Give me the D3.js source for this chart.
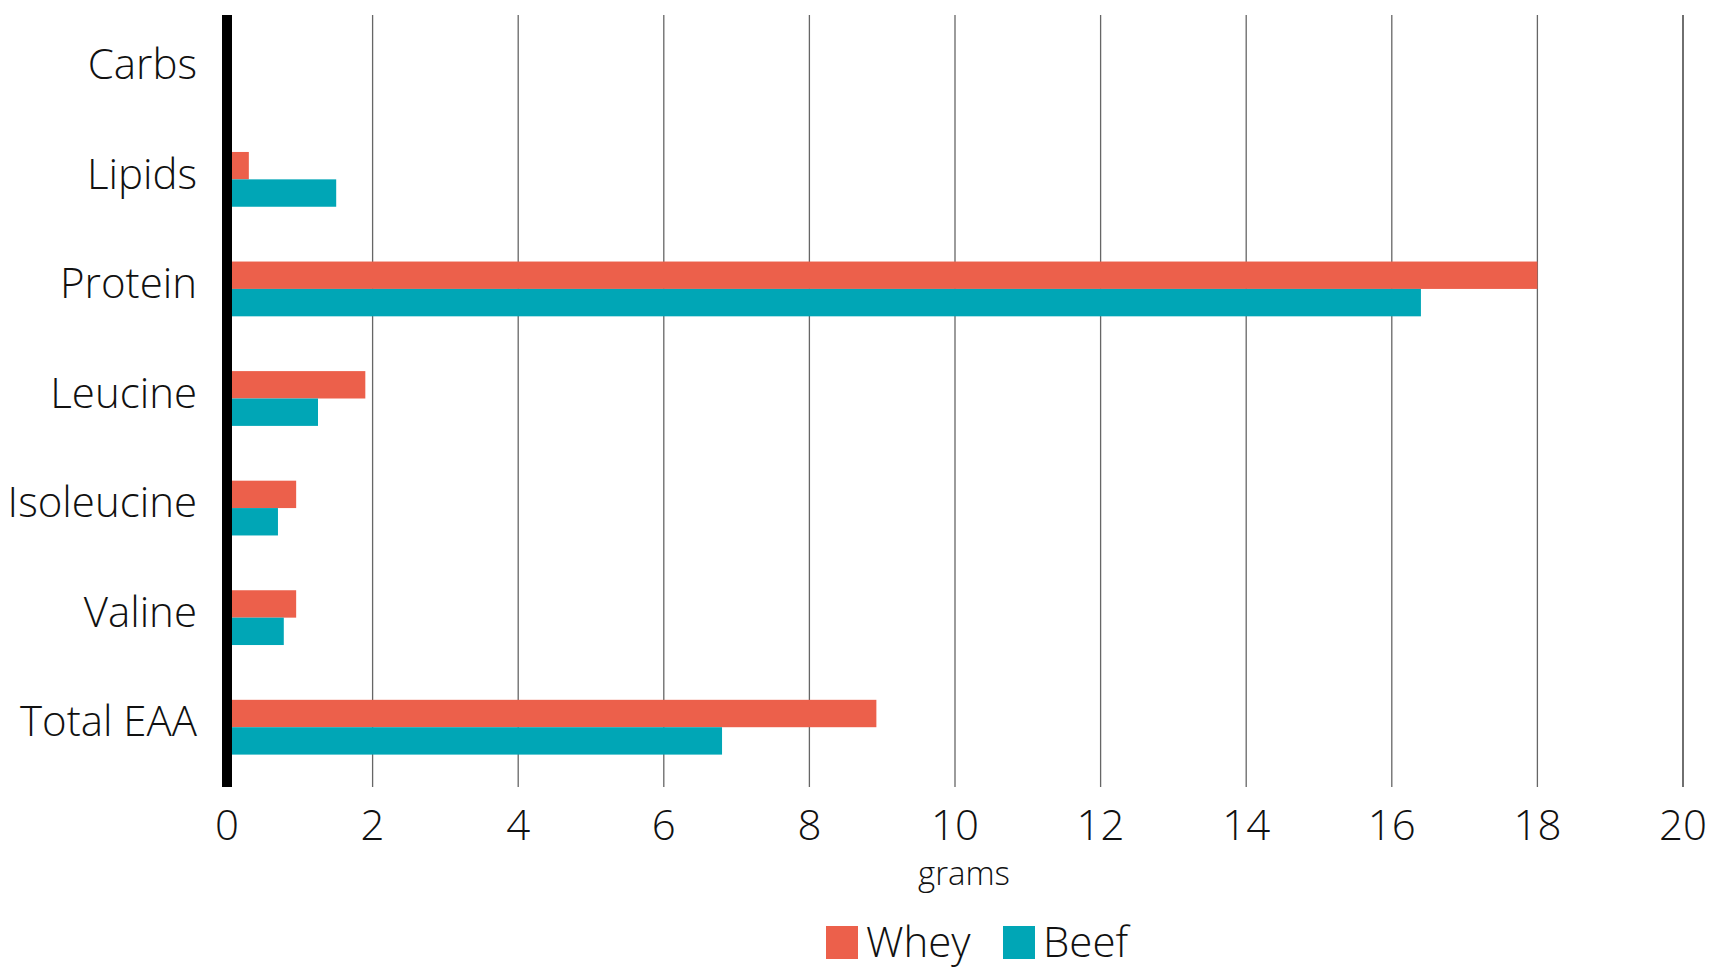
<!DOCTYPE html>
<html>
<head>
<meta charset="utf-8">
<script src="https://cdn.jsdelivr.net/npm/d3@7"></script>
<style>
  body { margin: 0; background: #fff; }
  svg text { font-family: "Open Sans", "Lato", sans-serif; font-weight: 300; fill: #111; }
</style>
</head>
<body>
<div id="chart"></div>
<script>
// data
var categories = ["Carbs", "Lipids", "Protein", "Leucine", "Isoleucine", "Valine", "Total EAA"];
var seriesNames = ["Whey", "Beef"];
var wheyValues = [0, 0.3, 18, 1.9, 0.95, 0.95, 8.92];
var beefValues = [0, 1.5, 16.4, 1.25, 0.7, 0.78, 6.8];
var xTicks = [0, 2, 4, 6, 8, 10, 12, 14, 16, 18, 20];
var colors = ["#ec604b", "#00a6b6"];

var width = 1725, height = 968;
var margin = {top: 15, right: 42, bottom: 186, left: 227};

var svg = d3.select("#chart").append("svg")
  .attr("width", width)
  .attr("height", height);

var x = d3.scaleLinear()
  .domain([0, 20])
  .range([margin.left, width - margin.right]);

var y = d3.scaleBand()
  .domain(categories)
  .range([margin.top, height - margin.bottom]);

var y1 = d3.scaleBand()
  .domain(seriesNames)
  .range([0, y.bandwidth()])
  .paddingOuter(1);

var gridBottom = height - margin.bottom + 5;

// vertical grid lines
svg.append("g").selectAll("line")
  .data(xTicks.slice(1))
  .join("line")
    .attr("x1", d => x(d)).attr("x2", d => x(d))
    .attr("y1", margin.top).attr("y2", gridBottom)
    .attr("stroke", d => d === 20 ? "#222" : "#666")
    .attr("stroke-width", 1.3);

// bars
var rows = categories.map(function(c, i) {
  return {cat: c, vals: [wheyValues[i], beefValues[i]]};
});

var groups = svg.append("g").selectAll("g")
  .data(rows)
  .join("g")
    .attr("transform", d => "translate(0," + y(d.cat) + ")");

groups.selectAll("rect")
  .data(d => d.vals.map((v, j) => ({name: seriesNames[j], v: v, j: j})))
  .join("rect")
    .attr("x", x(0))
    .attr("y", d => y1(d.name))
    .attr("width", d => x(d.v) - x(0))
    .attr("height", y1.bandwidth())
    .attr("fill", d => colors[d.j]);

// zero axis line
svg.append("line")
  .attr("x1", x(0)).attr("x2", x(0))
  .attr("y1", margin.top).attr("y2", gridBottom)
  .attr("stroke", "#000")
  .attr("stroke-width", 10);

// category labels
svg.append("g").selectAll("text")
  .data(categories)
  .join("text")
    .attr("x", 197)
    .attr("y", d => y(d) + y.bandwidth() / 2)
    .attr("dy", "0.22em")
    .attr("text-anchor", "end")
    .style("font-size", "42px")
    .text(d => d);

// tick labels
svg.append("g").selectAll("text")
  .data(xTicks)
  .join("text")
    .attr("x", d => x(d))
    .attr("y", 825)
    .attr("dy", "0.35em")
    .attr("text-anchor", "middle")
    .style("font-size", "42px")
    .text(d => d);

// axis title
svg.append("text")
  .attr("x", 964)
  .attr("y", 875)
  .attr("dy", "0.3em")
  .attr("text-anchor", "middle")
  .style("font-size", "33px")
  .text("grams");

// legend
var legendX = [826, 1003];
var legend = svg.append("g").selectAll("g")
  .data(seriesNames)
  .join("g")
    .attr("transform", (d, i) => "translate(" + legendX[i] + ",926)");

legend.append("rect")
  .attr("width", 32).attr("height", 33)
  .attr("fill", (d, i) => colors[i]);

legend.append("text")
  .attr("x", 40)
  .attr("y", 16)
  .attr("dy", "0.35em")
  .style("font-size", "42px")
  .text(d => d);
</script>
</body>
</html>
